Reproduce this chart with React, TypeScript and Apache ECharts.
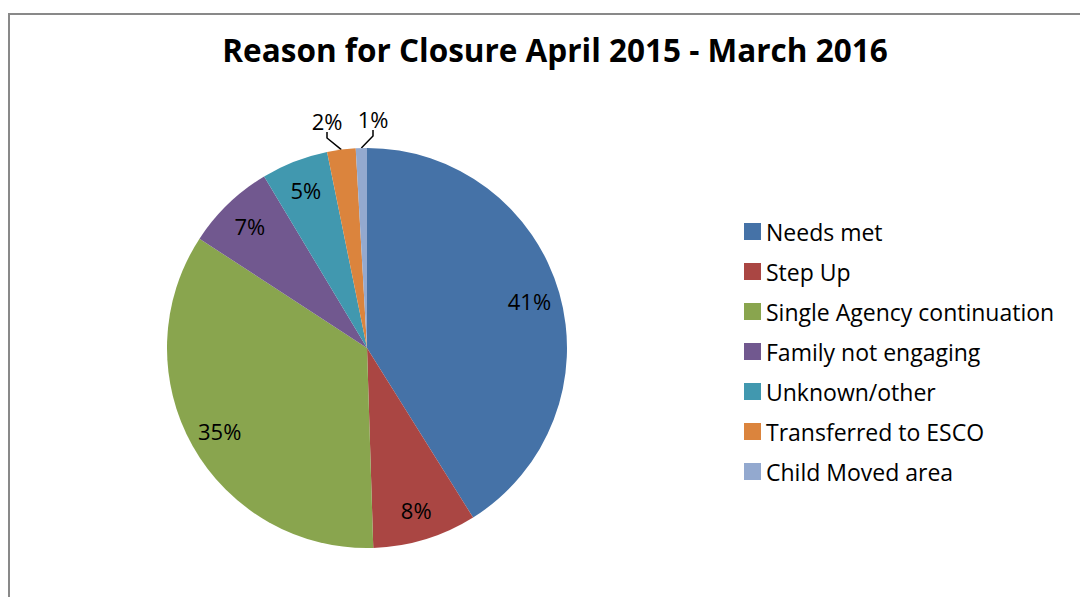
import React, { useEffect, useRef } from "react";
import * as echarts from "echarts";

const titleText = "Reason for Closure April 2015 - March 2016";
const categories = [
  "Needs met",
  "Step Up",
  "Single Agency continuation",
  "Family not engaging",
  "Unknown/other",
  "Transferred to ESCO",
  "Child Moved area",
];
const values = [41.1, 8.4, 34.7, 7.2, 5.4, 2.3, 0.9];
const colors = ["#4572A7", "#AA4643", "#89A54E", "#71588F", "#4198AF", "#DB843D", "#93A9CF"];
const FONT = "'Open Sans', Lato, sans-serif";

export default function App() {
  const ref = useRef<HTMLDivElement>(null);
  useEffect(() => {
    if (!ref.current) return;
    const chart = echarts.init(ref.current, null, { renderer: "svg" });
    const data = categories.map((name, i) => ({ name, value: values[i] }));
    const fmt = (p: any) => `${Math.round(p.percent)}%`;
    chart.setOption({
      animation: false,
      backgroundColor: "#ffffff",
      color: colors,
      title: {
        text: titleText,
        left: 550,
        textAlign: "center",
        top: 28,
        textStyle: { fontFamily: FONT, fontSize: 31.5, fontWeight: "bold", color: "#000" },
      },
      graphic: [
        {
          type: "rect",
          shape: { x: 9, y: 14, width: 1100, height: 620 },
          style: { fill: "none", stroke: "#898989", lineWidth: 2 },
          silent: true,
        },
      ],
      legend: {
        orient: "vertical",
        left: 739,
        top: 215,
        icon: "rect",
        itemWidth: 17,
        itemHeight: 17,
        itemGap: 17,
        textStyle: { fontFamily: FONT, fontSize: 23, color: "#000", lineHeight: 20 },
        data: categories,
      },
      series: [
        {
          type: "pie",
          center: [367, 348],
          radius: [0, 200],
          startAngle: 90,
          clockwise: true,
          data: data.map((d, i) => ({
            ...d,
            label: { show: i >= 5 },
            labelLine: { show: i >= 5 },
          })),
          label: {
            position: "outside",
            formatter: fmt,
            fontFamily: FONT,
            fontSize: 22,
            color: "#000",
          },
          labelLine: { length: 10, length2: 6, lineStyle: { color: "#000", width: 1.5 } },
          labelLayout: (p: any) => {
            if (p.dataIndex === 5) return { x: 327, y: 121, align: "center", verticalAlign: "middle" };
            if (p.dataIndex === 6) return { x: 373, y: 119, align: "center", verticalAlign: "middle" };
            return {};
          },
          itemStyle: { borderWidth: 0 },
          emphasis: { disabled: true },
        },
        {
          type: "pie",
          center: [367, 348],
          radius: [132, 200],
          startAngle: 90,
          clockwise: true,
          silent: true,
          data: data.map((d, i) => ({ ...d, label: { show: i < 5 } })),
          itemStyle: { color: "rgba(0,0,0,0)", borderWidth: 0 },
          label: {
            position: "inside",
            formatter: fmt,
            fontFamily: FONT,
            fontSize: 22,
            color: "#000",
          },
          labelLine: { show: false },
          emphasis: { disabled: true },
          legendHoverLink: false,
        },
      ],
    });
    return () => chart.dispose();
  }, []);
  return (
    <div
      ref={ref}
      style={{ position: "fixed", left: 0, top: 0, width: 1080, height: 597 }}
    />
  );
}
